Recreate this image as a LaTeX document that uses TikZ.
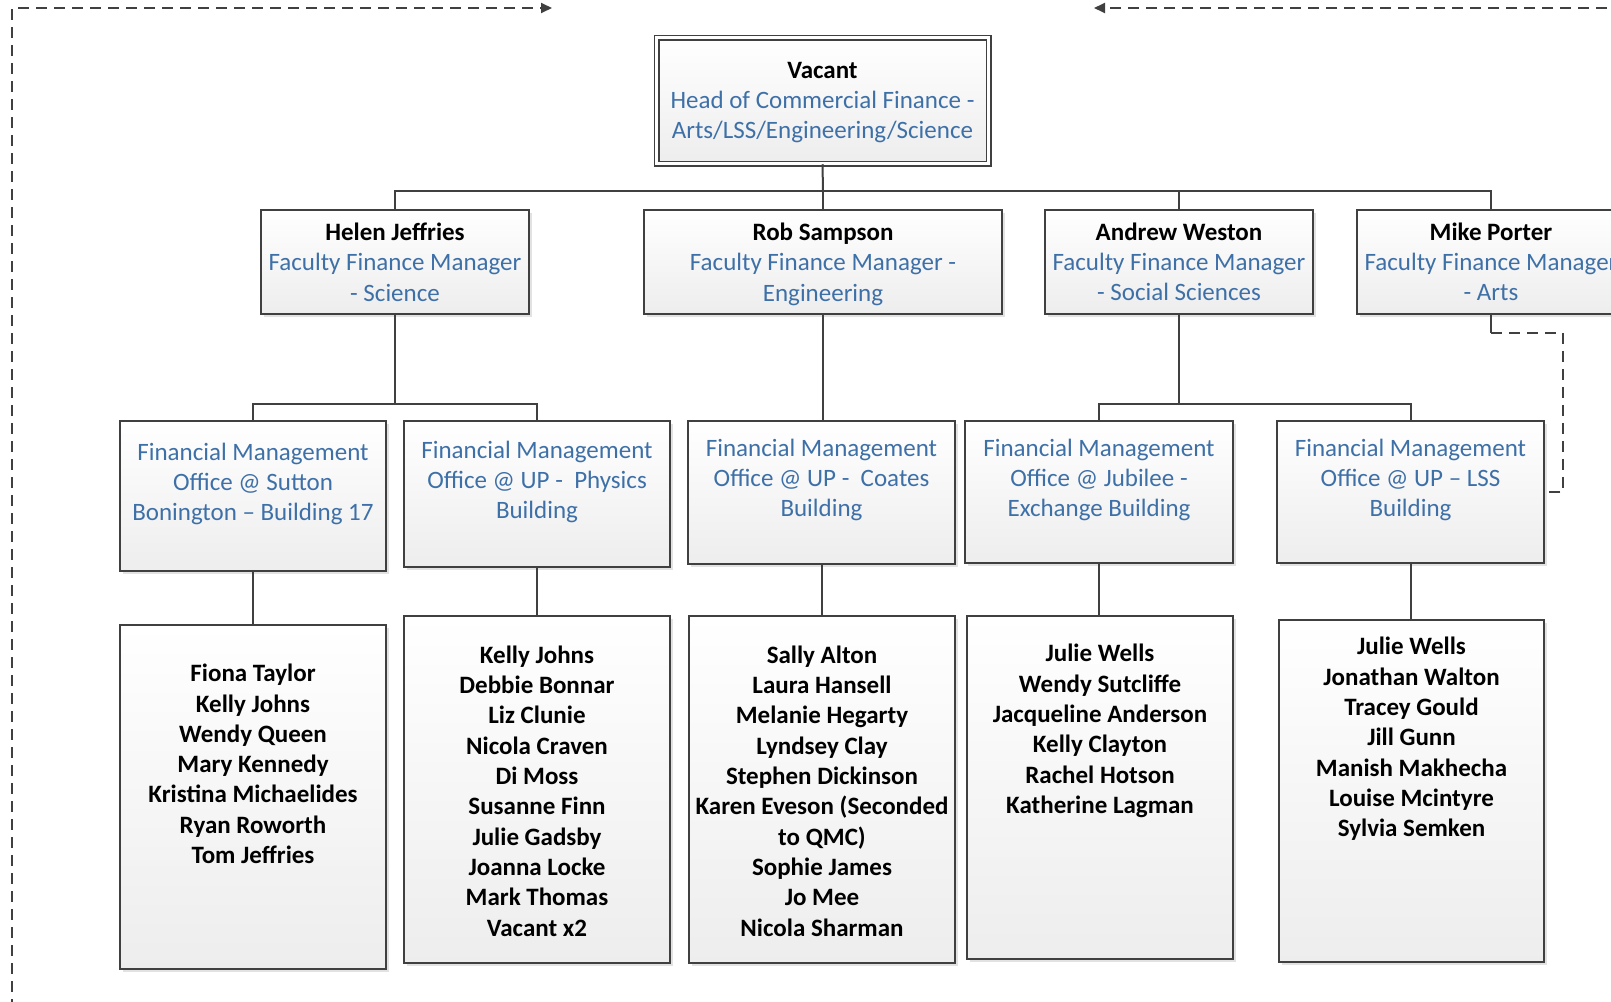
\documentclass[tikz,border=0pt]{standalone}
\usepackage{fontspec}
\setmainfont{Carlito}
\usetikzlibrary{positioning,calc,shadings,shadows,arrows.meta}
\definecolor{fmblue}{RGB}{62,112,168}
\definecolor{fmline}{RGB}{64,64,64}
\newcommand{\fmrole}[1]{\textcolor{fmblue}{#1}}
\newcommand{\nodepth}[1]{\raisebox{0pt}[\height][0pt]{#1}}

\begin{document}
\begin{tikzpicture}[x=1pt, y=-1pt,
    orgbox/.style={draw=fmline, line width=1.5pt, top color=white, bottom color=black!7, inner sep=0pt,
        drop shadow={shadow xshift=3pt, shadow yshift=-3pt, fill=black!14, opacity=0.8}},
    orgtext/.style={align=center, inner sep=0pt, font=\fontsize{25pt}{30.3pt}\selectfont},
    stafftext/.style={orgtext, font=\fontsize{25pt}{30.3pt}\selectfont\bfseries},
    conn/.style={draw=fmline, line width=2pt},
    dashline/.style={draw=fmline, line width=1.8pt, dash pattern=on 11pt off 7pt}
]
    \useasboundingbox (0,0) rectangle (1611,1001);
    \clip (0,0) rectangle (1611,1001);
    \fill[white] (0,0) rectangle (1611,1001);

    % head of commercial finance
    \node[orgbox, orgtext, double=white, double distance=3pt, minimum width=332pt, minimum height=126pt] (head) at (822.5,100.5)
        {\textbf{Vacant}\\\fmrole{Head of Commercial Finance -}\\\fmrole{\nodepth{Arts/LSS/Engineering/Science}}};

    % faculty finance managers
    \node[orgbox, orgtext, minimum width=268pt, minimum height=104pt] (helen) at (395,262)
        {\textbf{Helen Jeffries}\\\fmrole{Faculty Finance Manager}\\\fmrole{- Science}};
    \node[orgbox, orgtext, minimum width=358pt, minimum height=104pt] (rob) at (823,262)
        {\textbf{Rob Sampson}\\\fmrole{Faculty Finance Manager -}\\\fmrole{\nodepth{Engineering}}};
    \node[orgbox, orgtext, minimum width=268pt, minimum height=104pt] (andrew) at (1179,262)
        {\textbf{Andrew Weston}\\\fmrole{Faculty Finance Manager}\\\fmrole{- Social Sciences}};
    \node[orgbox, orgtext, minimum width=268pt, minimum height=104pt] (mike) at (1491,262)
        {\textbf{Mike Porter}\\\fmrole{Faculty Finance Manager}\\\fmrole{- Arts}};

    % offices
    \foreach \n/\x/\y/\w/\h in {sutton/253/496/266/150, physics/537/494/266/146, coates/821.5/492.5/267/143,
        jubilee/1099/492/268/142, lss/1410.5/492/267/142}
        \node[orgbox, minimum width=\w pt, minimum height=\h pt] (\n) at (\x,\y) {};
    \node[orgtext, text=fmblue] (sutton-t) at (253,484) {Financial Management\\Office @ Sutton\\Bonington – Building 17};
    \node[orgtext, text=fmblue] (physics-t) at (537,482) {Financial Management\\Office @ UP -\ \ Physics\\Building};
    \node[orgtext, text=fmblue] (coates-t) at (821.5,480) {Financial Management\\Office @ UP -\ \ Coates\\Building};
    \node[orgtext, text=fmblue] (jubilee-t) at (1099,480) {Financial Management\\Office @ Jubilee -\\Exchange Building};
    \node[orgtext, text=fmblue] (lss-t) at (1410.5,480) {Financial Management\\Office @ UP – LSS\\Building};

    % staff lists
    \foreach \n/\x/\y/\w/\h in {sutton-s/253/797/266/344, physics-s/537/789.5/266/347, coates-s/822/789.5/266/347,
        jubilee-s/1100/787.5/266/343, lss-s/1411.5/791/265/342}
        \node[orgbox, minimum width=\w pt, minimum height=\h pt] (\n) at (\x,\y) {};
    \node[stafftext] (sutton-l) at (253,764) {Fiona Taylor\\Kelly Johns\\Wendy Queen\\Mary Kennedy\\Kristina Michaelides\\Ryan Roworth\\Tom Jeffries};
    \node[stafftext] (physics-l) at (537,791) {Kelly Johns\\Debbie Bonnar\\Liz Clunie\\Nicola Craven\\Di Moss\\Susanne Finn\\Julie Gadsby\\Joanna Locke\\Mark Thomas\\Vacant x2};
    \node[stafftext] (coates-l) at (822,791) {Sally Alton\\Laura Hansell\\Melanie Hegarty\\Lyndsey Clay\\Stephen Dickinson\\Karen Eveson (Seconded\\to QMC)\\Sophie James\\Jo Mee\\Nicola Sharman};
    \node[stafftext] (jubilee-l) at (1100,731) {Julie Wells\\Wendy Sutcliffe\\Jacqueline Anderson\\Kelly Clayton\\Rachel Hotson\\Katherine Lagman};
    \node[stafftext] (lss-l) at (1411.5,739) {Julie Wells\\Jonathan Walton\\Tracey Gould\\Jill Gunn\\Manish Makhecha\\Louise Mcintyre\\Sylvia Semken};

    % reporting lines
    \coordinate (bus0) at (823,191);
    \draw[conn] (head.south) -- (bus0);
    \foreach \n in {helen,rob,andrew,mike} \draw[conn] (bus0) -| (\n.north);
    \coordinate (bus1) at (395,404);
    \draw[conn] (helen.south) -- (bus1);
    \foreach \n in {sutton,physics} \draw[conn] (bus1) -| (\n.north);
    \draw[conn] (rob.south) -- (rob.south |- coates.north);
    \coordinate (bus2) at (1179,404);
    \draw[conn] (andrew.south) -- (bus2);
    \foreach \n in {jubilee,lss} \draw[conn] (bus2) -| (\n.north);
    \foreach \n in {sutton,physics,coates,jubilee,lss} \draw[conn] (\n.south) -- (\n.south |- \n-s.north);

    % dotted-line report and links off the page
    \draw[conn] (mike.south) -- ++(0,18) coordinate (mk);
    \draw[dashline] (mk) -- ++(72,0) |- (lss.east);
    \coordinate (lft) at (12,1010);
    \coordinate (ltip) at (552,8);
    \coordinate (rgt) at (1625,8);
    \coordinate (rtip) at (1094,8);
    \draw[dashline, -{Triangle[length=11pt, width=10pt]}] (lft) |- (ltip);
    \draw[dashline, -{Triangle[length=11pt, width=10pt]}] (rgt) -- (rtip);
\end{tikzpicture}
\end{document}
